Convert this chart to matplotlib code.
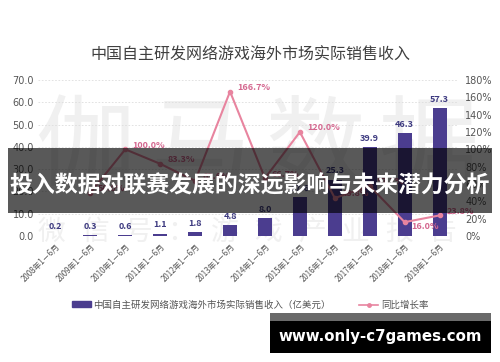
import matplotlib
matplotlib.use("Agg")
import matplotlib.pyplot as plt
from matplotlib.patches import Rectangle
from matplotlib.lines import Line2D
from matplotlib.patches import Patch

plt.rcParams['font.family'] = ['Noto Sans CJK SC', 'DejaVu Sans']

years = ["2008", "2009", "2010", "2011", "2012", "2013", "2014", "2015", "2016", "2017", "2018", "2019"]
revenue = [0.2, 0.3, 0.6, 1.1, 1.8, 4.8, 8.0, 17.6, 25.3, 39.9, 46.3, 57.3]
growth_years = ["2009", "2010", "2011", "2012", "2013", "2014", "2015", "2016", "2017", "2018", "2019"]
growth = [50.0, 100.0, 83.3, 63.6, 166.7, 66.7, 120.0, 43.8, 57.7, 16.0, 23.8]
tick_labels = [f"{y}年1－6月" for y in years]

title = "中国自主研发网络游戏海外市场实际销售收入"
bar_name = "中国自主研发网络游戏海外市场实际销售收入（亿美元）"
line_name = "同比增长率"
banner = "投入数据对联赛发展的深远影响与未来潜力分析"
site = "www.only-c7games.com"

BAR = "#4b3d8f"
LINE = "#e8849f"
LINE_TXT = "#d4678f"
BAR_TXT = "#3d3a80"
GRAY = "#555555"

fig = plt.figure(figsize=(5.0, 3.62), dpi=100)
ax = fig.add_axes([0.076, 0.348, 0.838, 0.431])
ax2 = ax.twinx()

x = list(range(len(years)))
ax.bar(x, revenue, width=0.4, color=BAR, zorder=2)
for xi, v in zip(x, revenue):
    ax.annotate(f"{v:.1f}", (xi, v), xytext=(0, 3), textcoords="offset points",
                ha="center", va="bottom", fontsize=6.5, color=BAR_TXT, fontweight="bold")

ax.set_xlim(-0.5, len(years) - 0.5)
ax.set_ylim(0, 70)
ax.set_yticks(range(0, 71, 10))
ax.set_yticklabels([f"{v:.1f}" for v in range(0, 71, 10)], fontsize=7, color=GRAY,
                   family=['DejaVu Sans'])
ax.set_xticks(x)
ax.set_xticklabels(tick_labels, rotation=45, ha="right", rotation_mode="anchor",
                   fontsize=5.7, color=GRAY)
ax.tick_params(axis="both", length=0, pad=3)
ax.tick_params(axis="x", pad=4)
ax.grid(axis="y", color="#dddddd", linestyle=(0, (2, 2)), linewidth=0.6)
ax.set_axisbelow(True)
for s in ax.spines.values():
    s.set_visible(False)

gx = [years.index(y) for y in growth_years]
ax2.plot(gx, growth, color=LINE, lw=1.5, marker="o", markersize=3, zorder=3)
offsets = {"16.0": (5, -3)}
for xi, g in zip(gx, growth):
    lbl = f"{g:.1f}"
    off = offsets.get(lbl, (5, 3))
    ax2.annotate(lbl + "%", (xi, g), xytext=off, textcoords="offset points",
                 ha="left", va="center", fontsize=6.5, color=LINE_TXT, fontweight="bold")
ax2.set_ylim(0, 180)
ax2.set_yticks(range(0, 181, 20))
ax2.set_yticklabels([f"{v}%" for v in range(0, 181, 20)], fontsize=7, color=GRAY,
                    family=['DejaVu Sans'])
ax2.tick_params(axis="y", length=0, pad=6)
for s in ax2.spines.values():
    s.set_visible(False)

# faint watermarks
W = 500.0
H = 362.0
for ch, cx in zip("伽马数据", [85, 200, 315, 428]):
    ax.text(cx / W, 1 - 150 / H, ch, transform=fig.transFigure, fontsize=72,
            color="#f0f0f0", ha="center", va="center", zorder=0.5)
for i, ch in enumerate("微信号：游戏产业报告"):
    ax.text((51 + i * 43.5) / W, 1 - 232 / H, ch, transform=fig.transFigure, fontsize=20,
            color="#f0f0f0", ha="center", va="center", zorder=0.5)

fig.text(0.5, 1 - 55 / H, title, fontsize=11.5, color="#404040", ha="center", va="center")

handles = [Patch(color=BAR), Line2D([0], [0], color=LINE, lw=1.2, marker="o", markersize=2.5)]
fig.legend(handles, [bar_name, line_name], loc="center", bbox_to_anchor=(0.5, 1 - 305 / H),
           ncol=2, frameon=False, fontsize=6.8, labelcolor=GRAY, handlelength=2.0,
           handleheight=0.6, columnspacing=3, handletextpad=0.3)

# overlay banner
fig.add_artist(Rectangle((8 / W, 1 - 213 / H), 484 / W, 65 / H, transform=fig.transFigure,
                         facecolor="black", alpha=0.65, edgecolor="none", zorder=5))
fig.text(0.5, 1 - 186 / H, banner, fontsize=16.5, fontweight="bold", color="white",
         ha="center", va="center", zorder=6)

# bottom site box
fig.add_artist(Rectangle((270 / W, 1 - 353 / H), 221 / W, 40 / H, transform=fig.transFigure,
                         facecolor="#6a6a6a", edgecolor="none", zorder=5))
fig.add_artist(Rectangle((270 / W, 1 - 353 / H), 221 / W, 32 / H, transform=fig.transFigure,
                         facecolor="black", edgecolor="none", zorder=5))
fig.text(380 / W, 1 - 337 / H, site, fontsize=10.8, fontweight="bold", color="white",
         ha="center", va="center", zorder=6, family=["DejaVu Sans"])

fig.savefig("out.png", dpi=100)
